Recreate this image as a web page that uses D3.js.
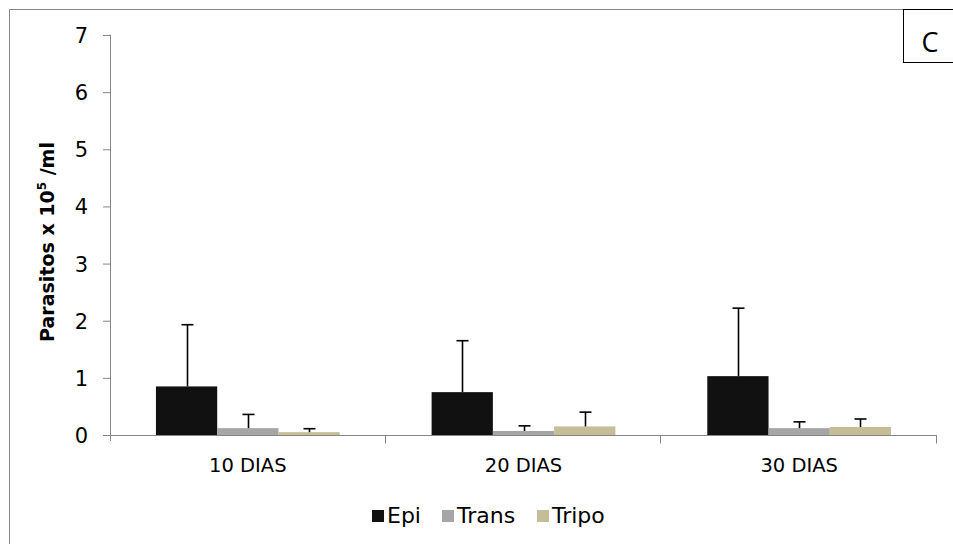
<!DOCTYPE html>
<html>
<head>
<meta charset="utf-8">
<script src="https://cdn.jsdelivr.net/npm/d3@7"></script>
<style>
body{margin:0;background:#fff;}
text{font-family:"DejaVu Sans",sans-serif;}
</style>
</head>
<body>
<div id="root"></div>
<script>
// data
var categories=['10 DIAS','20 DIAS','30 DIAS'];
var series=['Epi','Trans','Tripo'];
var epiVals=[0.85,0.75,1.03];
var transVals=[0.12,0.07,0.12];
var tripoVals=[0.05,0.15,0.14];
var epiErr=[1.08,0.90,1.19];
var transErr=[0.24,0.09,0.11];
var tripoErr=[0.06,0.25,0.14];
var yTicks=[0,1,2,3,4,5,6,7];
var colors=['#111111','#a6a6a6','#c4bd97'];

var W=953,H=544;
var svg=d3.select('#root').append('svg').attr('width',W).attr('height',H);

// outer frame (left + top) and the "C" box
svg.append('path').attr('d','M9.5,544 V9.5 H903').attr('fill','none').attr('stroke','#868686').attr('stroke-width',1);
svg.append('rect').attr('x',903.5).attr('y',9.5).attr('width',60).attr('height',53).attr('fill','#fff').attr('stroke','#000').attr('stroke-width',1);
svg.append('text').attr('x',930).attr('y',52).attr('text-anchor','middle')
	.style('font-family','"Open Sans","Liberation Sans",sans-serif').style('font-size','27px').text('C');

var plot={l:110,r:937,t:35,b:435};

var yScale=d3.scaleLinear().domain([0,7]).range([plot.b,plot.t]);
var xScale=d3.scaleBand().domain(categories).range([plot.l,plot.r]).padding(0);
var x1=d3.scaleBand().domain(series).range([0,xScale.bandwidth()]).paddingInner(0).paddingOuter(0.75);

var table=categories.map(function(c,i){
	return [
		{cat:c,s:'Epi',v:epiVals[i],e:epiErr[i],col:colors[0]},
		{cat:c,s:'Trans',v:transVals[i],e:transErr[i],col:colors[1]},
		{cat:c,s:'Tripo',v:tripoVals[i],e:tripoErr[i],col:colors[2]}
	];
});
var flat=[].concat.apply([],table);

// y axis
var yAxis=d3.axisLeft(yScale).tickValues(yTicks).tickSize(7).tickPadding(15).tickFormat(d3.format('d'));
var yg=svg.append('g').attr('transform','translate('+plot.l+',0)').call(yAxis);
yg.select('.domain').attr('stroke','#868686').attr('d','M-0.5,'+plot.t+'H0.5V'+(plot.b+6));
yg.selectAll('.tick line').attr('stroke','#868686');
yg.selectAll('.tick text').style('font-size','21px').attr('fill','#000').attr('dy','0.36em');

// bars
svg.append('g').selectAll('rect').data(flat).enter().append('rect')
	.attr('x',function(d){return xScale(d.cat)+x1(d.s)})
	.attr('y',function(d){return yScale(d.v)})
	.attr('width',x1.bandwidth())
	.attr('height',function(d){return yScale(0)-yScale(d.v)})
	.attr('fill',function(d){return d.col});

// error bars (up only)
var eg=svg.append('g').attr('stroke','#000').attr('stroke-width',1.6);
flat.forEach(function(d){
	var cx=Math.round(xScale(d.cat)+x1(d.s)+x1.bandwidth()/2)+0.5;
	var top=yScale(d.v+d.e);
	eg.append('line').attr('x1',cx).attr('x2',cx).attr('y1',yScale(d.v)).attr('y2',top);
	eg.append('line').attr('x1',cx-6).attr('x2',cx+6).attr('y1',top).attr('y2',top);
});

// x axis
var xAxis=d3.axisBottom(xScale).tickSize(0).tickPadding(23);
var xg=svg.append('g').attr('transform','translate(0,'+(plot.b+0.5)+')').call(xAxis);
xg.select('.domain').attr('stroke','#868686').attr('d','M'+plot.l+',0H'+plot.r);
xg.selectAll('.tick text').style('font-size','19.5px').attr('fill','#000');
var bounds=[plot.l+275.67,plot.l+2*275.67,plot.r];
xg.selectAll('.bnd').data(bounds).enter().append('line').attr('class','bnd')
	.attr('x1',function(d){return Math.round(d)-0.5}).attr('x2',function(d){return Math.round(d)-0.5})
	.attr('y1',0).attr('y2',8).attr('stroke','#868686');

// y title
var yt=svg.append('text').attr('transform','translate(54,242) rotate(-90)').attr('text-anchor','middle')
	.style('font-size','19px').style('font-weight','bold');
yt.append('tspan').text('Parasitos x 10');
yt.append('tspan').attr('dy',-8).style('font-size','12px').text('5');
yt.append('tspan').attr('dy',8).text(' /ml');

// legend
var legX=[372,442,537];
var lg=svg.append('g');
series.forEach(function(s,i){
	lg.append('rect').attr('x',legX[i]).attr('y',510).attr('width',12).attr('height',12).attr('fill',colors[i]);
	lg.append('text').attr('x',legX[i]+15).attr('y',523).style('font-size','22px').text(s);
});
</script>
</body>
</html>
